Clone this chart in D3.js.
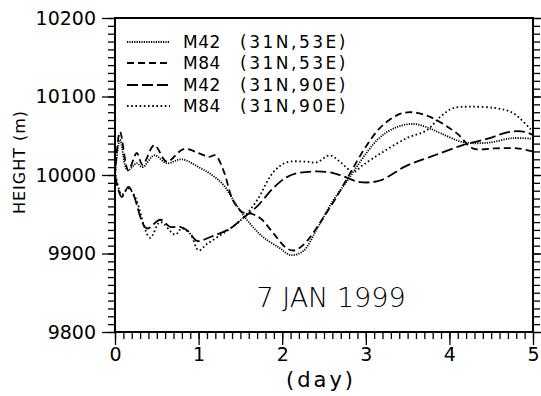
<!DOCTYPE html>
<html>
<head>
<meta charset="utf-8">
<script src="https://cdn.jsdelivr.net/npm/d3@7"></script>
<style>
  body { margin: 0; background: #fff; }
  text { font-family: "DejaVu Sans", sans-serif; fill: #000; }
</style>
</head>
<body>
<div id="chart"></div>
<script>
// [day, height (m)]
const m42_53E = [[0,10000],[0.06,10045],[0.15,10006],[0.26,10015],[0.33,10010],[0.47,10025],[0.62,10015],[0.8,10020],[1.0,10010],[1.16,10000],[1.3,9987],[1.45,9962],[1.6,9940],[1.77,9921],[1.97,9907],[2.1,9898],[2.25,9903],[2.42,9932],[2.6,9966],[2.8,9996],[3.0,10027],[3.17,10048],[3.37,10061],[3.57,10065],[3.75,10060],[3.9,10053],[4.16,10042],[4.45,10041],[4.76,10047],[5,10046]];
const m84_53E = [[0,10000],[0.06,10055],[0.16,10006],[0.26,10028],[0.33,10013],[0.47,10038],[0.62,10017],[0.82,10033],[1.0,10028],[1.12,10023],[1.2,10025],[1.3,10005],[1.41,9968],[1.52,9953],[1.65,9950],[1.75,9944],[1.9,9925],[2.05,9907],[2.15,9904],[2.29,9915],[2.45,9939],[2.65,9972],[2.8,10000],[3.0,10036],[3.17,10060],[3.37,10076],[3.53,10080],[3.77,10074],[4.09,10053],[4.28,10034],[4.56,10034],[4.81,10034],[5,10030]];
const m42_90E = [[0,10000],[0.08,9972],[0.16,9985],[0.22,9975],[0.38,9932],[0.54,9943],[0.66,9934],[0.78,9934],[0.88,9928],[0.98,9916],[1.14,9921],[1.38,9932],[1.53,9945],[1.7,9960],[1.89,9983],[2.05,9997],[2.21,10003],[2.53,10004],[2.69,10000],[2.93,9991],[3.17,9993],[3.49,10012],[3.77,10023],[4.16,10038],[4.45,10046],[4.72,10055],[4.9,10055],[5,10051]];
const m84_90E = [[0,10005],[0.08,9975],[0.16,9983],[0.24,9972],[0.42,9920],[0.54,9940],[0.72,9924],[0.8,9932],[0.9,9925],[1.0,9904],[1.1,9912],[1.38,9932],[1.53,9945],[1.7,9968],[1.89,10003],[2.05,10016],[2.29,10017],[2.41,10016],[2.57,10025],[2.69,10017],[2.85,10004],[2.97,10013],[3.2,10029],[3.49,10047],[3.73,10057],[3.89,10074],[4.04,10085],[4.25,10087],[4.56,10085],[4.76,10079],[5,10055]];

const models = ["M42", "M84", "M42", "M84"];
const places = ["(31N,53E)", "(31N,53E)", "(31N,90E)", "(31N,90E)"];
const seriesData = [m42_53E, m84_53E, m42_90E, m84_90E];
const dashes = ["1.2,1.2", "7,4", "11,4", "1.6,2.6"];

const xTicks = [0, 1, 2, 3, 4, 5];
const yTicks = [9800, 9900, 10000, 10100, 10200];

const width = 541, height = 396;
const svg = d3.select("#chart").append("svg")
    .attr("width", width)
    .attr("height", height);

svg.append("rect")
    .attr("width", width)
    .attr("height", height)
    .attr("fill", "#fff");

const x = d3.scaleLinear().domain([0, 5]).range([115, 533]);
const y = d3.scaleLinear().domain([9800, 10200]).range([332, 18]);

// minor ticks
svg.append("g")
    .attr("transform", "translate(0,332)")
    .call(d3.axisBottom(x).tickValues(d3.range(0, 50.5, 1).map(d => d / 10)).tickSize(7).tickFormat(""));
svg.append("g")
    .attr("transform", "translate(115,0)")
    .call(d3.axisLeft(y).tickValues(d3.range(9800, 10201, 10)).tickSize(7).tickFormat(""));
svg.append("g")
    .attr("transform", "translate(533,0)")
    .call(d3.axisRight(y).tickValues(d3.range(9800, 10201, 10)).tickSize(7).tickFormat(""));

// major ticks with labels
const xAxis = svg.append("g")
    .attr("transform", "translate(0,332)")
    .call(d3.axisBottom(x).tickValues(xTicks).tickSize(13).tickPadding(3).tickFormat(d3.format("d")));
const yAxis = svg.append("g")
    .attr("transform", "translate(115,0)")
    .call(d3.axisLeft(y).tickValues(yTicks).tickSize(13).tickPadding(6).tickFormat(d3.format("d")));
svg.append("g")
    .attr("transform", "translate(533,0)")
    .call(d3.axisRight(y).tickValues(yTicks).tickSize(10).tickFormat(""));

svg.selectAll(".domain").remove();
svg.selectAll(".tick line").attr("stroke", "#000").attr("stroke-width", 1.3);
[xAxis, yAxis].forEach(a => a.selectAll("text")
    .style("font-family", "'DejaVu Sans', sans-serif")
    .style("font-size", "19px")
    .attr("fill", "#000"));

// frame
svg.append("rect")
    .attr("x", 115)
    .attr("y", 18)
    .attr("width", 418)
    .attr("height", 314)
    .attr("fill", "none")
    .attr("stroke", "#000")
    .attr("stroke-width", 2);

const line = d3.line()
    .x(d => x(d[0]))
    .y(d => y(d[1]))
    .curve(d3.curveCatmullRom.alpha(0.5));

svg.append("defs").append("clipPath")
    .attr("id", "plotclip")
  .append("rect")
    .attr("x", 115).attr("y", 18).attr("width", 418).attr("height", 314);

svg.append("g")
    .attr("clip-path", "url(#plotclip)")
  .selectAll("path")
  .data(seriesData)
  .join("path")
    .attr("d", line)
    .attr("fill", "none")
    .attr("stroke", "#000")
    .attr("stroke-width", 1.8)
    .attr("stroke-dasharray", (d, i) => dashes[i]);

// legend
const legendY = [42, 63, 85, 106];
const legend = svg.append("g");
models.forEach((m, i) => {
    legend.append("line")
        .attr("x1", 127).attr("x2", 170)
        .attr("y1", legendY[i]).attr("y2", legendY[i])
        .attr("stroke", "#000")
        .attr("stroke-width", 1.8)
        .attr("stroke-dasharray", dashes[i]);
    legend.append("text")
        .attr("x", 183)
        .attr("y", legendY[i] + 6)
        .style("font-size", "17px")
        .style("letter-spacing", "0.5px")
        .text(m);
    legend.append("text")
        .attr("x", 240)
        .attr("y", legendY[i] + 6)
        .style("font-size", "17px")
        .style("letter-spacing", "2.5px")
        .text(places[i]);
});

svg.append("text")
    .attr("x", 331)
    .attr("y", 307)
    .attr("text-anchor", "middle")
    .style("font-size", "27px")
    .style("font-weight", "300")
    .text("7 JAN 1999");

svg.append("text")
    .attr("x", 321)
    .attr("y", 387)
    .attr("text-anchor", "middle")
    .style("font-size", "21px")
    .style("letter-spacing", "3px")
    .text("(day)");

svg.append("text")
    .attr("transform", "translate(25,162) rotate(-90)")
    .attr("text-anchor", "middle")
    .style("font-size", "16px")
    .style("letter-spacing", "1px")
    .text("HEIGHT (m)");
</script>
</body>
</html>
